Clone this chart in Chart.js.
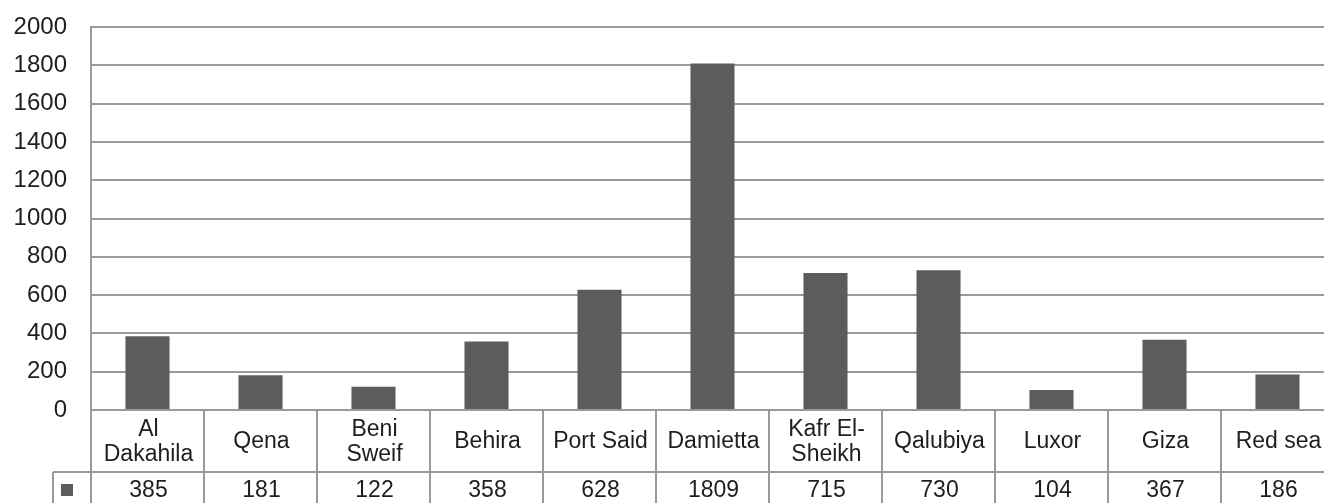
<!DOCTYPE html>
<html>
<head>
<meta charset="utf-8">
<title>Governorates</title>
<script src="https://cdn.jsdelivr.net/npm/chart.js@4/dist/chart.umd.min.js"></script>
<style>
  html, body { margin: 0; padding: 0; background: #fff; overflow: hidden; }
  #wrap { width: 1340px; height: 503px; }
</style>
</head>
<body>
<div id="wrap"><canvas id="govChart" width="1340" height="503"></canvas></div>
<script>
// governorates, split into lines the way the table header wraps them
const governorates = [['Al', 'Dakahila'], 'Qena', ['Beni', 'Sweif'], 'Behira', 'Port Said', 'Damietta',
                      ['Kafr El-', 'Sheikh'], 'Qalubiya', 'Luxor', 'Giza', 'Red sea'];
const counts = [385, 181, 122, 358, 628, 1809, 715, 730, 104, 367, 186];
const yMin = 0, yMax = 2000, yStep = 200;

const BAR = '#5c5c5c';
const LINE = '#9a9a9a';
const TEXT = '#1e1e1e';
const FONT = '"Liberation Sans", Arial, sans-serif';

// data table under the plot: category names + values, with a legend key cell
const dataTable = {
    id: 'dataTable',
    afterDraw(chart) {
        const { ctx, chartArea, scales: { x } } = chart;
        const n = governorates.length;
        const half = (x.getPixelForValue(1) - x.getPixelForValue(0)) / 2;
        const headTop = chartArea.bottom;
        const valTop = headTop + 62;
        const keyLeft = 53;
        const bottom = chart.height + 10;

        ctx.save();
        ctx.strokeStyle = LINE;
        ctx.lineWidth = 2;
        ctx.beginPath();
        ctx.moveTo(keyLeft, valTop); ctx.lineTo(chart.width, valTop);
        ctx.moveTo(keyLeft, valTop); ctx.lineTo(keyLeft, bottom);
        for (let i = 0; i <= n; i++) {
            const px = Math.round(x.getPixelForValue(i) - half);
            ctx.moveTo(px, headTop); ctx.lineTo(px, bottom);
        }
        ctx.stroke();

        ctx.fillStyle = TEXT;
        ctx.font = '23px ' + FONT;
        ctx.textAlign = 'center';
        ctx.textBaseline = 'middle';
        const headMid = (headTop + valTop) / 2 + 1;
        governorates.forEach((g, i) => {
            const lines = Array.isArray(g) ? g : [g];
            const cx = x.getPixelForValue(i) + 1;
            lines.forEach((ln, j) => {
                ctx.fillText(ln, cx, headMid + (j - (lines.length - 1) / 2) * 25);
            });
            ctx.fillText(String(counts[i]), cx, valTop + 19);
        });

        // legend key
        ctx.fillStyle = BAR;
        ctx.fillRect(61, valTop + 12, 12, 12);
        ctx.restore();
    }
};

new Chart(document.getElementById('govChart'), {
    type: 'bar',
    data: {
        labels: governorates,
        datasets: [{
            data: counts,
            backgroundColor: BAR,
            categoryPercentage: 1,
            barPercentage: 0.39
        }]
    },
    options: {
        responsive: false,
        animation: false,
        layout: { padding: { top: 27, right: 6, bottom: 93, left: 0 } },
        plugins: { legend: { display: false }, tooltip: { enabled: false } },
        scales: {
            x: { display: false },
            y: {
                min: yMin,
                max: yMax,
                ticks: {
                    stepSize: yStep, padding: 24, color: TEXT,
                    font: { family: FONT, size: 24 },
                    callback: v => String(v)
                },
                grid: { color: LINE, lineWidth: 2, drawTicks: false },
                border: { display: true, color: LINE, width: 2 },
                afterFit(scale) {
                    scale.width = 91;
                    scale.paddingTop = 0;
                    scale.paddingBottom = 0;
                }
            }
        }
    },
    plugins: [dataTable]
});
</script>
</body>
</html>
